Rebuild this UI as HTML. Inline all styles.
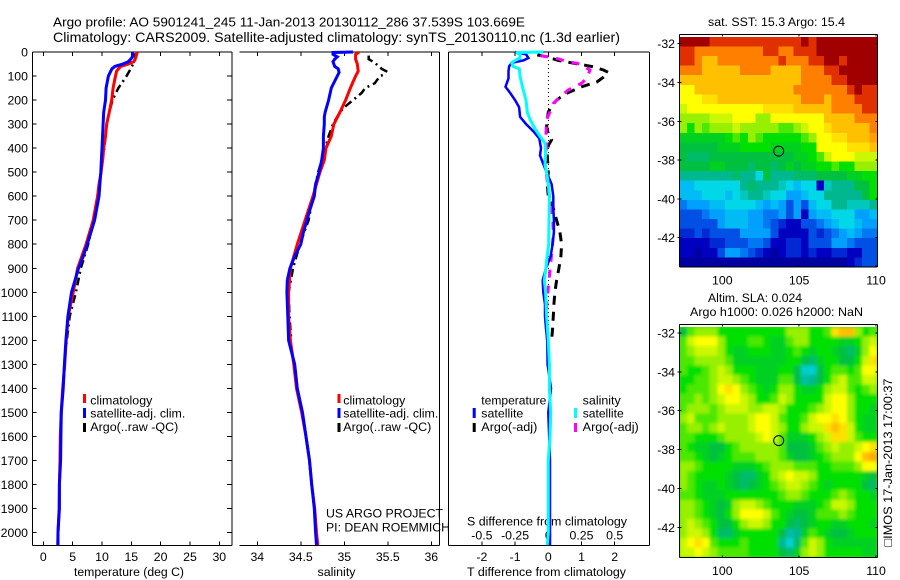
<!DOCTYPE html>
<html>
<head>
<meta charset="utf-8">
<title>Argo profile</title>
<style>
html,body{margin:0;padding:0;background:#fff;}
svg{display:block;font-family:"Liberation Sans",sans-serif;fill:#000;}
</style>
</head>
<body>
<svg id="chart" xmlns="http://www.w3.org/2000/svg" width="900" height="580" viewBox="0 0 900 580">
<defs>
<filter id="soft" x="-10%" y="-10%" width="120%" height="120%"><feGaussianBlur stdDeviation="1.7"/></filter>
<clipPath id="clipSla"><rect x="679.3" y="327" width="198" height="230.3"/></clipPath>
</defs>
<rect width="900" height="580" fill="#fff"/>
<text x="53" y="26.5" font-size="13.3" textLength="472" lengthAdjust="spacingAndGlyphs">Argo profile: AO 5901241_245 11-Jan-2013 20130112_286 37.539S 103.669E</text>
<text x="53" y="42" font-size="13.8" textLength="567" lengthAdjust="spacingAndGlyphs">Climatology: CARS2009. Satellite-adjusted climatology: synTS_20130110.nc (1.3d earlier)</text>
<text x="708" y="26" font-size="12.4" textLength="137" lengthAdjust="spacingAndGlyphs">sat. SST: 15.3 Argo: 15.4</text>
<text x="708" y="302" font-size="12.4" textLength="94" lengthAdjust="spacingAndGlyphs">Altim. SLA: 0.024</text>
<text x="690" y="316" font-size="12.4" textLength="173" lengthAdjust="spacingAndGlyphs">Argo h1000: 0.026 h2000: NaN</text>
<text x="74" y="576" font-size="12.2" textLength="110" lengthAdjust="spacingAndGlyphs">temperature (deg C)</text>
<text x="317.5" y="576" font-size="12.2" textLength="38" lengthAdjust="spacingAndGlyphs">salinity</text>
<text x="467" y="576" font-size="12.4" textLength="159" lengthAdjust="spacingAndGlyphs">T difference from climatology</text>
<text x="467" y="525.5" font-size="12.4" textLength="160" lengthAdjust="spacingAndGlyphs">S difference from climatology</text>
<text x="326" y="517.5" font-size="12.4" textLength="117" lengthAdjust="spacingAndGlyphs">US ARGO PROJECT</text>
<text x="326" y="531.5" font-size="12.4" textLength="124" lengthAdjust="spacingAndGlyphs">PI: DEAN ROEMMICH</text>
<text transform="translate(892 546.5) rotate(-90)" font-size="12.4" textLength="168" lengthAdjust="spacingAndGlyphs">□IMOS 17-Jan-2013 17:00:37</text>
<g id="layer"></g>
</svg>
<script>
// ---------- chart data ----------
var depthTicks = [0,100,200,300,400,500,600,700,800,900,1000,1100,1200,1300,1400,1500,1600,1700,1800,1900,2000];
var tempTicks = [0,5,10,15,20,25,30];
var salTicks = [34,34.5,35,35.5,36];
var salTickLabels = ['34','34.5','35','35.5','36'];
var tDiffTicks = [-2,-1,0,1,2];
var sDiffTicks = [-0.5,-0.25,0,0.25,0.5];
var sDiffTickLabels = ['-0.5','-0.25','0','0.25','0.5'];
var lonTicks = [100,105,110];
var latTicks = [-32,-34,-36,-38,-40,-42];

var tempBlueDepth = [0,20,30,40,50,60,70,100,150,200,250,300,400,500,600,700,800,850,900,1000,1100,1200,1300,1400,1500,1600,1700,1800,1900,2000,2052];
var tempBlue = [15.2,15.2,14.9,14.5,13.6,12.2,11.7,11.1,10.7,10.6,10.3,10.2,10.0,9.8,9.5,8.75,7.5,6.8,6.0,4.8,4.2,3.85,3.6,3.4,3.07,3.0,2.95,2.74,2.74,2.5,2.5];
var tempRedDepth = [0,20,40,50,60,70,80,100,150,200,250,300,350,400,450,500,550,600,700,800,900,1000,1100,1200,1300,1400,1500,1600,1700,1800,1900,2000,2052];
var tempRed = [16.0,15.8,15.45,14.5,13.2,12.8,12.5,12.3,11.9,11.65,11.25,10.8,10.6,10.3,10.1,9.85,9.5,9.25,8.5,7.3,5.85,5.1,4.25,3.9,3.65,3.3,3.05,2.9,2.85,2.75,2.7,2.5,2.45];
var tempArgoDepth = [5,30,50,70,100,150,200,250,300,400,500,600,700,800,900,1000,1100,1220];
var tempArgo = [15.6,15.7,15.3,14.9,14.2,12.8,11.8,11.25,10.8,10.4,9.85,9.25,8.6,7.65,6.4,5.55,4.5,3.9];

var salBlueDepth = [0,2,10,20,30,40,60,70,85,100,150,200,250,270,300,350,400,450,500,550,600,650,700,750,800,850,900,950,1000,1100,1200,1300,1400,1500,1600,1700,1800,1900,2000,2052];
var salBlue = [35.10,34.87,34.87,34.92,34.89,34.87,34.89,34.93,34.94,34.92,34.85,34.82,34.78,34.77,34.77,34.76,34.76,34.74,34.71,34.67,34.655,34.61,34.57,34.53,34.5,34.43,34.375,34.345,34.34,34.35,34.36,34.43,34.46,34.52,34.56,34.6,34.625,34.655,34.67,34.68];
var salRedDepth = [0,10,30,50,80,100,150,200,250,300,350,400,450,500,600,700,800,900,1000,1100,1200,1300,1400,1500,1600,1700,1800,1900,2000,2052];
var salRed = [35.17,35.13,35.13,35.15,35.16,35.13,35.07,35.015,34.95,34.88,34.85,34.79,34.77,34.72,34.64,34.55,34.46,34.38,34.36,34.36,34.38,34.42,34.45,34.51,34.56,34.6,34.625,34.66,34.68,34.695];
var salArgoDepth = [15,30,45,70,80,95,100,130,150,170,200,230,250,300,350,400,500,600,700,800,900,1000,1100,1200];
var salArgo = [35.28,35.28,35.35,35.43,35.48,35.45,35.41,35.35,35.24,35.2,35.1,35.0,34.95,34.87,34.82,34.78,34.7,34.64,34.59,34.49,34.41,34.36,34.37,34.39];

var dTempSatDepth = [0,10,25,35,45,60,80,110,145,170,200,230,270,300,330,360,400,430,460,500,550,600,650,700,750,800,850,900,950,1000,1050,1100,1150,1200,1300,1400,1500,1700,2000,2052];
var dTempSat = [-1.0,-0.67,-0.6,-0.75,-1.1,-1.18,-1.2,-1.2,-1.29,-1.15,-1.0,-0.88,-0.85,-0.67,-0.45,-0.27,-0.22,-0.25,-0.17,-0.05,0.1,0.15,0.15,0.17,0.17,0.13,0.07,-0.07,-0.17,-0.15,-0.1,-0.1,-0.07,-0.03,-0.02,0.08,0,0.05,0.05,0.05];
var dSalSatDepth = [0,2,10,25,35,45,60,70,100,150,200,250,280,320,350,380,420,470,500,550,600,700,800,850,900,950,1000,1100,1200,1300,1400,1500,1600,1700,1900,2000,2052];
var dSalSat = [-0.038,-0.243,-0.213,-0.213,-0.251,-0.276,-0.264,-0.218,-0.213,-0.193,-0.168,-0.158,-0.138,-0.1,-0.063,-0.025,-0.02,-0.025,-0.013,0,0.008,0.005,0.003,-0.008,-0.018,-0.03,-0.02,-0.013,0,0.008,0.008,0.018,0.013,0,0,0,-0.008];
var dTempArgoDepth = [12,20,35,45,60,75,85,105,125,145,175,200,225,250,280,310,340,365,390,430,500,550,600,650,700,750,800,850,900,950,1000,1050,1100,1150,1200];
var dTempArgo = [-0.33,-0.05,0.3,0.7,1.3,1.66,1.81,1.66,1.46,1.0,0.5,0.25,0.1,0,-0.03,-0.05,0,0.1,0,-0.03,0,-0.03,0,0.15,0.25,0.35,0.4,0.38,0.32,0.25,0.2,0.17,0.15,0.13,0.1];
var dSalArgoDepth = [15,25,40,50,75,110,130,158,214,283,352,366,463,533,616,685,755,810,879,949,1060,1143,1198];
var dSalArgo = [-0.06,0.05,0.15,0.238,0.314,0.289,0.251,0.15,0.038,-0.013,-0.018,-0.008,-0.025,-0.008,0.013,0.033,0.038,0.03,0.018,0.005,-0.013,-0.013,-0.008];

var profileLon = 103.669;
var profileLat = -37.539;

// map values are colour-scale levels
var sstGrid = [
[13,13,13,13,12,12,12,12,12,12,12,12,12,12,12,12,13,12,13,13,13,13,13,13,13,13],
[12,12,11,11,11,11,11,11,11,11,11,12,12,11,11,12,12,12,13,13,13,13,13,13,13,13],
[12,12,11,10,10,11,11,11,11,11,11,11,11,12,11,11,11,12,12,13,13,12,13,13,13,13],
[11,11,11,10,10,10,10,10,11,11,11,11,10,10,10,10,11,11,11,12,12,13,13,13,13,13],
[10,10,10,10,10,10,10,10,10,10,10,10,10,10,10,10,11,11,11,11,12,12,13,13,13,13],
[9,9,10,10,10,10,10,10,10,10,10,10,10,10,10,11,11,11,11,11,11,11,12,13,12,12],
[9,9,9,9.5,9.5,10,10,10,10,10,10,10,10,10,10,10,11,11,11,10,11,11,11,12,12,12],
[8.5,9,9,9,9,9,9,9,9,9,9,9.5,9.5,9.5,9.5,10,10,10,10,10,11,11,11,11,12,12],
[8,8,8,8,8.5,8.5,8.5,9,9,9,8,8,9,9,9,9,9,9,9,10,10,10,10,11,11,11],
[8,7,8,7.5,8,8,8,8.5,8,8,8,8,8,7.5,7.5,8,8.5,9,9,9.5,10,10,10,10,10,11],
[6.5,6.5,6.5,6.5,6.5,6.5,7,7.5,7,8,7.5,7,7,7,7,7,7.5,8,9,9,9.5,9.5,10,10,10,10.5],
[6,6,6,6,6,6.5,6.5,6.5,7,7,7,7,6.5,6.5,6.5,6.5,7,7,9,9,9,9,9.5,9.5,9.5,10],
[6,5.5,5.5,5.5,6,6,6,6,6,6,6,6,6,6,6,6.5,6.5,7,7.5,8.5,9,9,9,8.5,8.5,8.5],
[6,6,6,6,6.5,6.5,6,6,6,5.5,6,6,5.5,6,6.5,6,6.5,6.5,7,7,7.5,7,7,8,8,8],
[5,5,5,5,5,5,5,5.5,5,5,4,6,5,5,5,5.5,5.5,5.5,6,6,6,6,6.5,6.5,7,7],
[3.5,3.5,4,4,4,4,4,4,5,5.5,5,5,5,4.5,4,3.5,4,4,1,4.5,5,5,5,6,6,7],
[3.5,3.5,3.5,4,4,4,3.5,4,4.5,5,5,4.5,4,4,3,3,3.5,4,4,5,5,5,5,5,6,7],
[2.5,3,3,3,3.5,3.5,4,4,4,4,3.5,3,3.5,3,2,3,2,3.5,4,4,5,5,4.5,4.5,4.5,5],
[2,2,2,2.5,3,3,3.5,3.5,3.5,3,3,2.5,2.5,3,2,3,1,3,3.5,3.5,4,4,4,3,3,3.5],
[2,2,2,2,2,3,3.5,3.5,3.5,3,3,2.5,2,1.5,1,1,2,2,2.5,3,3.5,4,4,3.5,3,3],
[1.5,1.5,2,1.5,2,2,2,2,3,3,3,3,2,1,1,1,1,2,1.5,2,2.5,3,3.5,3,2.5,2.5],
[1,1,1,1,1.5,1.5,2,2,2,2.5,2.5,2,1,1,1.5,1.5,1,2,2,2,3,3,2.5,2,2,2],
[1,1,0.5,1,1,2,3,3,2.5,2,1.5,1,0.5,1,1.5,1.5,1,1.5,1,1,1.5,1.5,1,1,2,2],
[0.5,0.5,0.5,0.5,0.5,0.5,0.5,0.5,0.5,0.5,0.5,0.5,0.5,0.5,0.5,0.5,0.5,0.5,0.5,0.5,0.5,0.5,1,1.5,2,2]
];
var slaGrid = [
[6,7.5,8,8,8,7,7,7,7,7,7,7,7,7,8,8,8,7,7,7.5,9.5,10,10,8,7,7.5],
[7.5,8.5,9,9,9,8,7,7,7,7.5,7.5,7,6.5,6.5,7.5,8,8,7,7,7,7,6.5,6.5,7,8,8.5],
[7.5,8,8.5,8.5,8.5,8,7,6.5,6.5,7,7,7,6.5,6.5,7,7.5,7,6.5,7,7,6.5,6,5.5,6.5,8,9],
[7.5,7.5,8,8,8,8,7.5,6.5,6.5,6.5,6.5,6.5,6.5,6.5,7,7,6,5.5,6.5,7,7,6,6,7,8.5,9.5],
[7.5,7,7,7.5,8,8.5,8,7,7,7,6.5,6.5,6.5,7,7,6,4.3,4.3,6,7,7.5,7.5,7,7.5,9,9],
[7,7,7.5,7.5,8,8.5,8.5,8,7.5,7,6.5,6.5,6.5,7.5,7.5,6,4.8,5,6,7,8,8.5,7.5,7.5,8.5,8.5],
[7,7.5,7.5,7.5,8,9,9.5,9,8,7.5,7,6.5,7,8,8,7,6.5,6.5,7,8,8.5,8.5,7.5,7,7.5,8],
[7.5,7.5,8,7.5,8,8.5,9,9,8.5,8,7,7,7.5,8.5,8,7,7,7,7,8.5,9,9,8,7,7,7],
[7.5,8,8,8,7.5,8,8.5,8.5,8.5,8,8,8.5,8.5,8,7,7,7,7.5,8,8.5,9,9,8,7,7,6.5],
[8,8.5,7.5,7.5,7.5,8,8,8,8,8.5,9,9,8.5,7.5,7,7,7.5,8.5,9,9,9.5,9,8,7,6.5,6.5],
[7.5,8,8,7.5,8,8.5,8,8,8,8.5,9,9,8.5,8,7,7,8,8.5,8.5,9.5,10,9.5,8.5,7,6.5,6.5],
[7.5,7.5,7,7,7,7.5,8,8,8,8,8.5,9,8.5,7.5,6.5,6.5,6.5,7,8,8.5,9.5,9.5,8.5,7.5,7,7],
[7.5,7,6.5,6.5,6,6,7,7.5,8,8,8,8,8,7.5,6,6,6,6.5,7.5,8,8.5,8,8,8.5,9,9.5],
[7.5,7.5,7,6.5,6,6.5,7,7.5,7.5,7.5,8,8,8,7.5,6.5,6,6,6.5,7,7.5,8,8,8,9,10,10.3],
[8,8,7.5,7,7,7,7,6.5,6.5,6.5,7,7.5,8,8,8,7.5,7.5,7.5,7,7,7.5,7.5,7.5,8,9,9],
[8,7.5,7,7,7,7,6.5,6,5.5,5.5,6.5,7,8,8.5,9,8.5,8.5,8,7,7,7,7,7,7,6.5,6],
[8,7.5,7,6.5,6.5,7,6.5,6,5.5,6,6.5,7,7.5,8,8.5,8.5,8,7.5,7,6.5,7,7,7,7,6,5.5],
[7.5,7.5,7,6.5,6.5,6.5,7,7,7,7,7,7,7,7.5,8,8,7.5,7,7,7,7.5,8,7.5,7,7,6.5],
[8,8,7.5,7,6.5,6,6.5,8,8.5,8.5,8,7.5,7,7,7,6.5,6.5,6.5,7,7.5,8.5,8.5,8,7,7,7],
[8,8,7.5,7,6.5,6,7,8,9,9,9,8.5,7.5,7,6.5,6,6,6.5,7.5,7.5,7.5,8,7.5,7,7,7],
[8,8.5,8,7.5,7,6,6,7,8,8.5,8.5,8,7,7,6,5.5,6,6.5,7,7,6.5,6.5,7,7,7,6.5],
[8,8.5,8.5,8,7,5.5,5.5,6.5,7,7,7,7,7,6,4.8,5,6.5,7.5,7,6.5,6,6,6.5,7,7,7],
[8.5,9,9.5,9,7.5,7,7,7,7.5,7,7,7,7,5,4.2,5.5,7.5,8.5,8,7,6.5,6.5,6.5,6.5,6.5,6.5],
[8.5,8.5,9,8.5,8,7.5,7.5,7.5,7.5,7,7,7,7,6,5.5,6.5,8,8.5,8,7,7,7,7,7,6.5,6.5]
];

// ---------- axis functions ----------
function depthY(d){ return 52 + d * 0.2403; }
function tempX(t){ return 43.3 + t * 5.867; }
function salX(s){ return 257.3 + (s - 34) * 87; }
function tDiffX(t){ return 548.3 + t * 33.2; }
function sDiffX(s){ return 548.3 + s * 132.8; }
function mapX(lon){ return 722.3 + (lon - 100) * 15.37; }
function sstY(lat){ return 43.7 + (-32 - lat) * 19.4; }
function slaY(lat){ return 333 + (-32 - lat) * 19.43; }

var colourStops = [[0,0,127],[0,0,192],[0,80,230],[0,160,255],[0,216,232],[0,184,144],[0,192,64],[0,224,0],[150,240,0],[255,255,0],[255,192,0],[255,128,0],[224,48,0],[160,0,0]];
function levelColour(v){
  var lo = Math.max(0, Math.min(colourStops.length - 2, Math.floor(v)));
  var f = Math.max(0, Math.min(1, v - lo));
  var a = colourStops[lo], b = colourStops[lo + 1], c = [];
  for (var i = 0; i < 3; i++) c.push(Math.round(a[i] + (b[i] - a[i]) * f));
  return 'rgb(' + c.join(',') + ')';
}

// ---------- drawing helpers ----------
var NS = 'http://www.w3.org/2000/svg';
var root = document.getElementById('layer');
function add(parent, tag, name, attrs){
  var el = document.createElementNS(NS, tag);
  
  
  for (var k in attrs) el.setAttribute(k, attrs[k]);
  parent.appendChild(el);
  return el;
}
function line(name, x1, y1, x2, y2){
  return add(root, 'line', name, {x1:x1, y1:y1, x2:x2, y2:y2, stroke:'#000', 'stroke-width':1, 'shape-rendering':'crispEdges'});
}
function label(name, x, y, str, anchor, size, len){
  var attrs = {x:x, y:y, 'font-size':size || 12.3, 'text-anchor':anchor || 'middle'};
  if (len) { attrs.textLength = len; attrs.lengthAdjust = 'spacingAndGlyphs'; }
  var t = add(root, 'text', name, attrs);
  t.textContent = str;
  return t;
}
function series(name, xs, depths, xFn, colour, width, dash){
  var pts = [];
  for (var i = 0; i < xs.length; i++) pts.push(xFn(xs[i]).toFixed(1) + ',' + depthY(depths[i]).toFixed(1));
  var attrs = {points:pts.join(' '), fill:'none', stroke:colour, 'stroke-width':width};
  if (dash) attrs['stroke-dasharray'] = dash;
  return add(root, 'polyline', name, attrs);
}
function bar(name, x, y, h, colour){
  return add(root, 'rect', name, {x:x, y:y, width:3, height:h, fill:colour});
}

// ---------- maps ----------
var lonStart = 97.2, lonStep = 0.4955, latStart = -31.65, latStep = 0.494;
function drawGrid(parent, grid, yFn, cellName, topLat){
  for (var r = 0; r < grid.length; r++) {
    for (var c = 0; c < grid[r].length; c++) {
      var x0 = mapX(lonStart + c * lonStep), x1 = mapX(lonStart + (c + 1) * lonStep);
      var y0 = yFn(topLat - r * latStep), y1 = yFn(topLat - (r + 1) * latStep);
      add(parent, 'rect', cellName, {x:x0.toFixed(2), y:y0.toFixed(2), width:(x1 - x0 + 0.4).toFixed(2), height:(y1 - y0 + 0.4).toFixed(2), fill:levelColour(grid[r][c]), 'shape-rendering':'crispEdges'});
    }
  }
}
var sstGroup = add(root, 'g', 'sst-map', {});
drawGrid(sstGroup, sstGrid, sstY, 'sst-cell', latStart);
var slaClip = add(root, 'g', 'sla-map', {'clip-path':'url(#clipSla)'});
add(slaClip, 'rect', 'sla-map-base', {x:679.3, y:327, width:198, height:230.3, fill:'#40e000'});
var slaGroup = add(slaClip, 'g', 'sla-cells', {filter:'url(#soft)'});
drawGrid(slaGroup, slaGrid, slaY, 'sla-cell', -31.69);

function mapFrame(prefix, yFn, top, bottom){
  line(prefix + '-frame-top', 679.3, top, 877.3, top);
  line(prefix + '-frame-right', 877.3, top, 877.3, bottom);
  line(prefix + '-frame-bottom', 679.3, bottom, 877.3, bottom);
  line(prefix + '-frame-left', 679.3, top, 679.3, bottom);
  lonTicks.forEach(function(v){
    line(prefix + '-lon-tick-top', mapX(v), top, mapX(v), top + 2);
    line(prefix + '-lon-tick-bottom', mapX(v), bottom, mapX(v), bottom - 2);
    label(prefix + '-lon-label', mapX(v), bottom + 17.5, String(v));
  });
  latTicks.forEach(function(v){
    line(prefix + '-lat-tick-left', 677.5, yFn(v), 681.3, yFn(v));
    line(prefix + '-lat-tick-right', 877.3, yFn(v), 875.3, yFn(v));
    label(prefix + '-lat-label', 675, yFn(v) + 4.5, String(v), 'end');
  });
  var cy = yFn(profileLat);
  add(root, 'ellipse', prefix + '-profile-marker', {cx:mapX(profileLon), cy:cy, rx:5, ry:5, fill:'none', stroke:'#000', 'stroke-width':1});
}
mapFrame('sst', sstY, 34.5, 267);
mapFrame('sla', slaY, 324.5, 557.3);

// ---------- profile panels ----------
var panelTop = 52, panelBottom = 545.3;
// panel 1
line('temperature-panel-top', 32.5, panelTop, 232, panelTop);
line('temperature-panel-bottom', 32.5, panelBottom, 232, panelBottom);
line('temperature-panel-left', 32.5, panelTop, 32.5, panelBottom);
line('temperature-panel-right', 232, panelTop, 232, panelBottom);
depthTicks.forEach(function(d){
  line('depth-tick-left', 32.5, depthY(d), 36.5, depthY(d));
  line('depth-tick-right', 232, depthY(d), 227, depthY(d));
  label('depth-tick-label', 28, depthY(d) + 4.5, String(d), 'end');
});
tempTicks.forEach(function(v){
  line('temperature-tick-top', tempX(v), panelTop, tempX(v), panelTop + 4);
  line('temperature-tick-bottom', tempX(v), panelBottom, tempX(v), panelBottom - 4);
  label('temperature-tick-label', tempX(v), 561, String(v));
});
series('temperature-argo-line', tempArgo, tempArgoDepth, tempX, '#000', 2.5, '8 4 2 4');
series('temperature-climatology-line', tempRed, tempRedDepth, tempX, '#ff0000', 3);
series('temperature-satellite-line', tempBlue, tempBlueDepth, tempX, '#0000ff', 3);
bar('legend-climatology-swatch', 83, 394, 9, '#ff0000');
bar('legend-satellite-swatch', 83, 408, 10, '#0000ff');
bar('legend-argo-swatch', 83, 423, 9, '#000');
label('legend-climatology', 90.3, 404.5, 'climatology', 'start', 12.3, 62);
label('legend-satellite', 90.3, 417.5, 'satellite-adj. clim.', 'start', 12.3, 95);
label('legend-argo', 90.3, 431, 'Argo(..raw -QC)', 'start', 12.3, 88);

// panel 2
line('salinity-panel-top', 239.5, panelTop, 439.7, panelTop);
line('salinity-panel-bottom', 239.5, panelBottom, 439.7, panelBottom);
line('salinity-panel-right', 439.7, panelTop, 439.7, panelBottom);
salTicks.forEach(function(v, i){
  line('salinity-tick-top', salX(v), panelTop, salX(v), panelTop + 4);
  line('salinity-tick-bottom', salX(v), panelBottom, salX(v), panelBottom - 4);
  label('salinity-tick-label', salX(v), 561, salTickLabels[i]);
});
series('salinity-argo-line', salArgo, salArgoDepth, salX, '#000', 2.5, '8 4 2 4');
series('salinity-climatology-line', salRed, salRedDepth, salX, '#ff0000', 3);
series('salinity-satellite-line', salBlue, salBlueDepth, salX, '#0000ff', 3);
bar('legend-climatology-swatch', 337.5, 394, 9, '#ff0000');
bar('legend-satellite-swatch', 337.5, 408, 10, '#0000ff');
bar('legend-argo-swatch', 337.5, 423, 9, '#000');
label('legend-climatology', 343.3, 404.5, 'climatology', 'start', 12.3, 62);
label('legend-satellite', 343.3, 417.5, 'satellite-adj. clim.', 'start', 12.3, 95);
label('legend-argo', 343.3, 431, 'Argo(..raw -QC)', 'start', 12.3, 88);

// panel 3
line('difference-panel-top', 448.3, panelTop, 649.3, panelTop);
line('difference-panel-bottom', 448.3, panelBottom, 649.3, panelBottom);
line('difference-panel-left', 448.3, panelTop, 448.3, panelBottom);
line('difference-panel-right', 649.3, panelTop, 649.3, panelBottom);
tDiffTicks.forEach(function(v){
  line('t-difference-tick-top', tDiffX(v), panelTop, tDiffX(v), panelTop + 4);
  line('t-difference-tick-bottom', tDiffX(v), panelBottom, tDiffX(v), panelBottom - 4);
  label('t-difference-tick-label', tDiffX(v), 561, String(v));
});
sDiffTicks.forEach(function(v, i){
  label('s-difference-tick-label', sDiffX(v), 539.5, sDiffTickLabels[i]);
});
add(root, 'line', 'zero-difference-line', {x1:tDiffX(0), y1:depthY(0), x2:tDiffX(0), y2:depthY(1220), stroke:'#000', 'stroke-width':1, 'stroke-dasharray':'1 3', 'shape-rendering':'crispEdges'});
series('t-difference-argo-line', dTempArgo, dTempArgoDepth, tDiffX, '#000', 3, '9 7');
series('s-difference-argo-line', dSalArgo, dSalArgoDepth, sDiffX, '#ff00ff', 3, '8 8');
series('t-difference-satellite-line', dTempSat, dTempSatDepth, tDiffX, '#0000ff', 2.5);
series('s-difference-satellite-line', dSalSat, dSalSatDepth, sDiffX, '#00ffff', 3);
bar('legend-temperature-satellite-swatch', 472.7, 408, 10, '#0000ff');
bar('legend-temperature-argo-swatch', 472.7, 423, 9, '#000');
bar('legend-salinity-satellite-swatch', 574, 408, 10, '#00ffff');
bar('legend-salinity-argo-swatch', 574, 423, 9, '#ff00ff');
label('legend-temperature-heading', 481.3, 404.5, 'temperature', 'start', 12.3, 65);
label('legend-temperature-satellite', 481.3, 417.5, 'satellite', 'start', 12.3, 42);
label('legend-temperature-argo', 481.3, 431, 'Argo(-adj)', 'start', 12.3, 56);
label('legend-salinity-heading', 582.7, 404.5, 'salinity', 'start', 12.3, 38);
label('legend-salinity-satellite', 582.7, 417.5, 'satellite', 'start', 12.3, 41);
label('legend-salinity-argo', 582.7, 431, 'Argo(-adj)', 'start', 12.3, 56);
</script>
</body>
</html>
